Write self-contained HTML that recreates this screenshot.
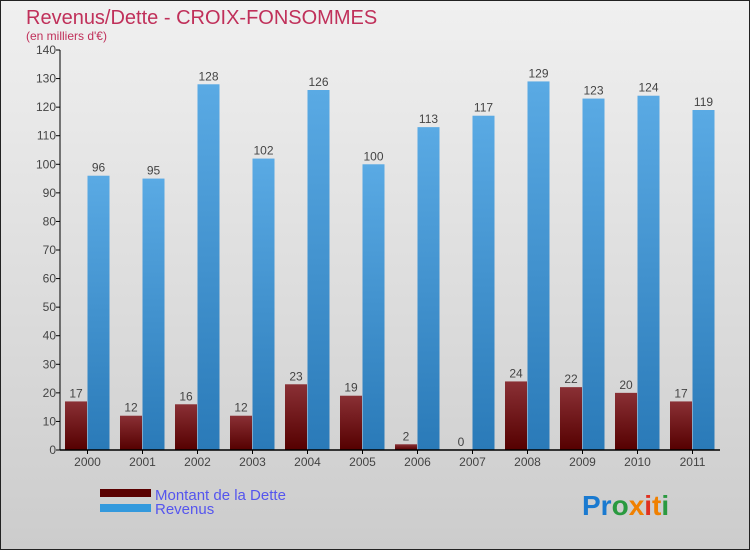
<!DOCTYPE html>
<html><head><meta charset="utf-8"><style>
body{margin:0;}
svg text{font-family:"Liberation Sans",sans-serif;}
</style></head><body>
<svg width="750" height="550" viewBox="0 0 750 550" xmlns="http://www.w3.org/2000/svg">
<defs>
<linearGradient id="bg" x1="0" y1="0" x2="0" y2="1"><stop offset="0" stop-color="#f0f0f0"/><stop offset="1" stop-color="#cccccc"/></linearGradient>
<linearGradient id="gd" x1="0" y1="0" x2="0" y2="1"><stop offset="0" stop-color="#8a3035"/><stop offset="1" stop-color="#550000"/></linearGradient>
<linearGradient id="gr" x1="0" y1="0" x2="0" y2="1"><stop offset="0" stop-color="#5aaae4"/><stop offset="1" stop-color="#2a7ab8"/></linearGradient>
</defs>
<rect x="0.5" y="0.5" width="749" height="549" fill="url(#bg)" stroke="#222"/>
<text x="26" y="24" font-size="20" fill="#c0305a">Revenus/Dette - CROIX-FONSOMMES</text>
<text x="26" y="40" font-size="12" fill="#c0305a">(en milliers d'€)</text>
<g id="plot"></g>
<g>
<rect x="100" y="489" width="51" height="8" fill="#5a0000"/>
<text x="155" y="500" font-size="15" fill="#5555ee">Montant de la Dette</text>
<rect x="100" y="504" width="51" height="8" fill="#3399dd"/>
<text x="155" y="514" font-size="15" fill="#5555ee">Revenus</text>
</g>
<text x="582" y="515" font-size="28" font-weight="bold"><tspan fill="#1a7ad0">Pr</tspan><tspan fill="#2a9a40">o</tspan><tspan fill="#f08000">x</tspan><tspan fill="#e03020">i</tspan><tspan fill="#f08000">t</tspan><tspan fill="#2a9a40">i</tspan></text>
</svg>
<script>
const years=["2000","2001","2002","2003","2004","2005","2006","2007","2008","2009","2010","2011"];
const debt=[17,12,16,12,23,19,2,0,24,22,20,17];
const revenue=[96,95,128,102,126,100,113,117,129,123,124,119];
const yTicks=[0,10,20,30,40,50,60,70,80,90,100,110,120,130,140];
const NS="http://www.w3.org/2000/svg";
const g=document.getElementById('plot');
const x0=60,x1=720,y0=450,y1=50,ymax=140;
const bw=(x1-x0)/years.length;
const yS=v=>y0-(v/ymax)*(y0-y1);
function el(t,a,txt){const e=document.createElementNS(NS,t);for(const k in a)e.setAttribute(k,a[k]);if(txt!==undefined)e.textContent=txt;g.appendChild(e);return e;}
yTicks.forEach(v=>{
 const y=yS(v);
 const t=el('line',{x1:x0-4,x2:x0,y1:y,y2:y,stroke:'#000'});
 
 
 const l=el('text',{x:x0-4,y:y+4,'font-size':12,fill:'#444','text-anchor':'end'},v);
 
 
});
years.forEach((yr,i)=>{
 const c=x0+bw*(i+0.5);
 const d=el('rect',{x:c-22.5,y:yS(debt[i]),width:22,height:y0-yS(debt[i]),fill:'url(#gd)'});
 
 
 const r=el('rect',{x:c,y:yS(revenue[i]),width:22,height:y0-yS(revenue[i]),fill:'url(#gr)'});
 
 
 const dl=el('text',{x:c-11.5,y:yS(debt[i])-4,'font-size':12,fill:'#444','text-anchor':'middle'},debt[i]);
 
 
 const rl=el('text',{x:c+11,y:yS(revenue[i])-4,'font-size':12,fill:'#444','text-anchor':'middle'},revenue[i]);
 
 
 const tk=el('line',{x1:c,x2:c,y1:y0,y2:y0+4,stroke:'#000'});
 
 
 const xl=el('text',{x:c,y:y0+16,'font-size':12,fill:'#444','text-anchor':'middle'},yr);
 
 
});
const ya=el('line',{x1:x0,x2:x0,y1:y1,y2:y0,stroke:'#000'});


const xa=el('line',{x1:x0,x2:x1,y1:y0,y2:y0,stroke:'#000','stroke-width':1.5});


</script>
</body></html>
